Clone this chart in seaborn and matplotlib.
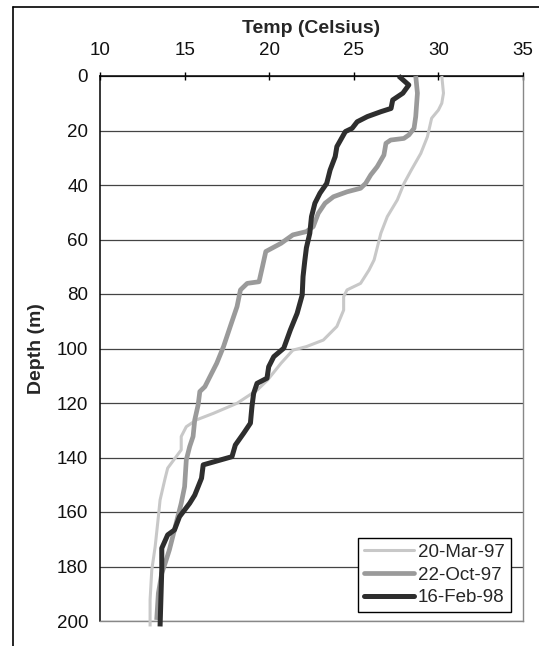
import matplotlib
matplotlib.use("Agg")
import matplotlib.pyplot as plt
import seaborn as sns
import pandas as pd
from matplotlib.lines import Line2D

# ---- data ----
feb98_depth = [0, 3.3, 6.3, 8.8, 11.9, 13.1, 14.9, 16.8, 19.2, 20.4, 25.9, 29.6, 34.5, 39.4, 43,
               46.7, 51.6, 57.7, 63, 68, 73.6, 80.4, 87.1, 93.2, 99.9, 103, 106.7, 110.9, 112.8,
               116.5, 121.3, 127.4, 131.1, 135.4, 139.7, 142.7, 147.6, 153.8, 156.8, 161.7, 166.6,
               168.4, 173.3, 181.3, 202]
feb98_temp = [27.65, 28.25, 27.9, 27.3, 27.2, 26.6, 25.8, 25.2, 24.9, 24.5, 24.0, 23.9, 23.6, 23.4,
              23.0, 22.7, 22.5, 22.4, 22.2, 22.1, 22.0, 21.95, 21.65, 21.25, 20.86, 20.27, 19.97,
              19.87, 19.28, 19.08, 18.98, 18.89, 18.49, 18.0, 17.8, 16.1, 16.0, 15.6, 15.3, 14.7,
              14.4, 14.0, 13.65, 13.65, 13.55]

oct97_depth = [0, 6.3, 14.9, 19.2, 21.6, 22.9, 23.5, 24.7, 29.0, 33.3, 36.3, 39.4, 41.2, 42.5, 44.3,
               46.7, 50.4, 55.3, 57.1, 58.3, 61.4, 64.4, 70, 75.5, 76.1, 78.5, 84.6, 91.9, 99.3,
               105.4, 110.3, 114.0, 115.8, 120.7, 126.2, 132.3, 136, 140.9, 150.7, 156.8, 161.7,
               166.6, 173.9, 178.8, 182.5, 189.8, 199.6]
oct97_temp = [28.66, 28.76, 28.66, 28.56, 28.26, 27.96, 27.18, 26.9, 26.78, 26.38, 26.0, 25.7, 25.4,
              24.6, 23.8, 23.3, 22.9, 22.6, 22.2, 21.4, 20.7, 19.8, 19.6, 19.4, 18.7, 18.3, 18.1,
              17.7, 17.3, 16.9, 16.5, 16.2, 15.9, 15.8, 15.6, 15.5, 15.3, 15.1, 15.0, 14.8, 14.6,
              14.4, 14.1, 13.85, 13.65, 13.45, 13.35]

mar97_depth = [0, 6.3, 10, 12.5, 15.5, 22.3, 28.4, 34.5, 39.4, 45.5, 51.6, 57.7, 62.6, 67.5, 71.2,
               76.1, 78.5, 81, 85.9, 91.9, 96.9, 99.3, 100.6, 105.4, 111.6, 115.2, 120.1, 123.8,
               126.2, 128.7, 132.3, 137.2, 143.9, 147.6, 155.6, 161.7, 172.7, 181.3, 192.3, 202]
mar97_temp = [30.2, 30.3, 30.2, 30.0, 29.6, 29.35, 28.96, 28.4, 27.97, 27.57, 26.98, 26.6, 26.4,
              26.2, 25.9, 25.4, 24.6, 24.4, 24.4, 24.0, 23.2, 22.2, 21.4, 20.7, 19.9, 19.3, 18.1,
              16.7, 15.7, 15.1, 14.8, 14.8, 14.0, 13.85, 13.55, 13.45, 13.26, 13.06, 12.96, 12.96]

series_labels = ["20-Mar-97", "22-Oct-97", "16-Feb-98"]
x_ticks = [10, 15, 20, 25, 30, 35]
y_ticks = [0, 20, 40, 60, 80, 100, 120, 140, 160, 180, 200]

# ---- style ----
sns.set_theme(style="white")
plt.rcParams['font.family'] = ['Liberation Sans', 'DejaVu Sans']

fig = plt.figure(figsize=(5.39, 6.46), dpi=100)
W, H = 539, 646
ax = fig.add_axes([100 / W, 1 - 621 / H, (523 - 100) / W, (621 - 76) / H])

styles = {
    "20-Mar-97": dict(color="#c8c8c8", lw=2.2),
    "22-Oct-97": dict(color="#9a9a9a", lw=3.4),
    "16-Feb-98": dict(color="#2e2e2e", lw=3.6),
}
data = {
    "20-Mar-97": (mar97_temp, mar97_depth),
    "22-Oct-97": (oct97_temp, oct97_depth),
    "16-Feb-98": (feb98_temp, feb98_depth),
}

for lab in series_labels:
    t, d = data[lab]
    df = pd.DataFrame({"temp": t, "depth": d})
    sns.lineplot(data=df, x="temp", y="depth", sort=False, estimator=None, ax=ax,
                 color=styles[lab]["color"], linewidth=styles[lab]["lw"], clip_on=False,
                 zorder=3, solid_capstyle="butt")

FS = 13.5
ax.set_xlim(10, 35)
ax.set_ylim(200, 0)
ax.set_xticks(x_ticks)
ax.set_yticks(y_ticks)
ax.xaxis.tick_top()
ax.xaxis.set_label_position("top")
ax.set_xlabel("Temp (Celsius)", fontsize=14, fontweight="bold", labelpad=6.5)
ax.set_ylabel("Depth (m)", fontsize=14, fontweight="bold", labelpad=8.5)
ax.tick_params(axis="both", which="major", direction="inout", length=6, width=1,
               color="black", labelsize=FS, labelcolor="#111111")
ax.tick_params(axis="x", pad=9.5)
ax.tick_params(axis="y", pad=5.5)
ax.yaxis.grid(True, color="#444444", linewidth=0.9)
ax.xaxis.grid(False)
ax.set_axisbelow(True)
for s in ["left", "top"]:
    ax.spines[s].set_color("black")
    ax.spines[s].set_linewidth(1.1)
for s in ["right", "bottom"]:
    ax.spines[s].set_color("#888888")
    ax.spines[s].set_linewidth(1.0)
    ax.spines[s].set_linestyle((0, (2, 1)))

handles = [Line2D([], [], color=styles[l]["color"], lw=styles[l]["lw"]) for l in series_labels]
leg = ax.legend(handles, series_labels, loc="upper left",
                bbox_to_anchor=(358 / W, 1 - 457 / H, (525 - 358) / W, (457 - 538) / H),
                bbox_transform=fig.transFigure, fontsize=FS, frameon=True, fancybox=False,
                handlelength=2.7, handletextpad=0.2, labelspacing=0.3, borderpad=0.3,
                borderaxespad=0, framealpha=1)
leg.get_frame().set_edgecolor("black")
leg.get_frame().set_linewidth(1.0)
leg.set_zorder(5)

# outer chart frame (left and top edges)
fig.add_artist(Line2D([13 / W, 13 / W], [0, 1 - 7 / H], color="black", lw=1.2,
                      transform=fig.transFigure))
fig.add_artist(Line2D([13 / W, 1], [1 - 7 / H, 1 - 7 / H], color="black", lw=1.2,
                      transform=fig.transFigure))

fig.savefig("out.png", dpi=100)
